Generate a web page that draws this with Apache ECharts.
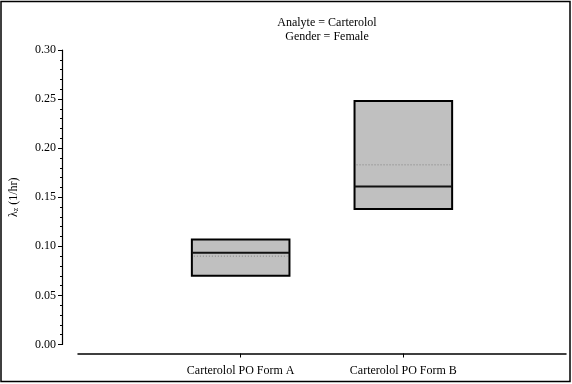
<!DOCTYPE html>
<html><head><meta charset="utf-8">
<script src="https://cdn.jsdelivr.net/npm/echarts@6/dist/echarts.min.js"></script>
<style>html,body{margin:0;padding:0;background:#fff}#c{width:572px;height:384px}</style>
</head><body><div id="c"></div>
<script>
const categories = ['', 'Carterolol PO Form A', 'Carterolol PO Form B', ''];
const boxCategory = ['Carterolol PO Form A', 'Carterolol PO Form B'];
const q1Values = [0.070, 0.138];
const q3Values = [0.107, 0.248];
const medianValues = [0.0935, 0.161];
const meanValues = [0.090, 0.183];
const yTicks = [0, 0.05, 0.10, 0.15, 0.20, 0.25, 0.30];

const boxData = boxCategory.map((c, i) => [categories.indexOf(c), q1Values[i], q3Values[i], medianValues[i], meanValues[i]]);
const font = '"Liberation Serif", "Times New Roman", serif';

const chart = echarts.init(document.getElementById('c'));
chart.setOption({
  animation: false,
  backgroundColor: '#fff',
  title: {
    text: 'Analyte = Carterolol\nGender = Female',
    left: 322, top: 11, textAlign: 'center',
    textStyle: {fontFamily: font, fontSize: 12, fontWeight: 'normal', color: '#000', lineHeight: 14}
  },
  graphic: [{type: 'rect', shape: {x: 1, y: 1.5, width: 569, height: 380}, style: {fill: 'none', stroke: '#000', lineWidth: 1.5}}],
  grid: {left: 78, right: 6, top: 50, bottom: 39.5},
  xAxis: {
    type: 'category', data: categories, boundaryGap: false, offset: 9,
    axisLine: {onZero: false, lineStyle: {color: '#000', width: 1.5}},
    axisTick: {length: 4, lineStyle: {color: '#000'}, interval: (i) => i === 1 || i === 2},
    axisLabel: {fontFamily: font, fontSize: 12, color: '#000', margin: 11, interval: 0},
    splitLine: {show: false}
  },
  yAxis: {
    type: 'value', min: 0, max: 0.30, interval: 0.05, offset: 16,
    name: '{a|λ}{b|z}{a| (1/hr)}', nameLocation: 'middle', nameRotate: 90, nameGap: 42,
    nameTextStyle: {rich: {a: {fontFamily: font, fontSize: 12, color: '#000'}, b: {fontFamily: font, fontSize: 8, color: '#000', padding: [4, 0, 0, 0]}}},
    axisLine: {show: true, lineStyle: {color: '#000', width: 1.2}},
    axisTick: {show: true, length: 4, lineStyle: {color: '#000'}},
    minorTick: {show: true, splitNumber: 5, length: 2, lineStyle: {color: '#000'}},
    axisLabel: {fontFamily: font, fontSize: 12, color: '#000', margin: 6, formatter: (v) => v.toFixed(2)},
    splitLine: {show: false}
  },
  series: [{
    type: 'custom',
    data: boxData,
    encode: {x: 0, y: [1, 2, 3, 4]},
    renderItem: function (params, api) {
      const x = api.value(0);
      const w = api.size([1, 0])[0] * 0.6;
      const pLo = api.coord([x, api.value(1)]);
      const pHi = api.coord([x, api.value(2)]);
      const pMed = api.coord([x, api.value(3)]);
      const pMean = api.coord([x, api.value(4)]);
      const x0 = pLo[0] - w / 2, x1 = pLo[0] + w / 2;
      return {type: 'group', children: [
        {type: 'rect', shape: {x: x0, y: pHi[1], width: w, height: pLo[1] - pHi[1]}, style: {fill: '#c0c0c0', stroke: '#000', lineWidth: 2}},
        {type: 'line', shape: {x1: x0 + 2, y1: pMean[1], x2: x1 - 2, y2: pMean[1]}, style: {stroke: '#808080', lineWidth: 1, lineDash: [1, 2]}},
        {type: 'line', shape: {x1: x0, y1: pMed[1], x2: x1, y2: pMed[1]}, style: {stroke: '#111', lineWidth: 2}}
      ]};
    }
  }]
});
</script></body></html>
